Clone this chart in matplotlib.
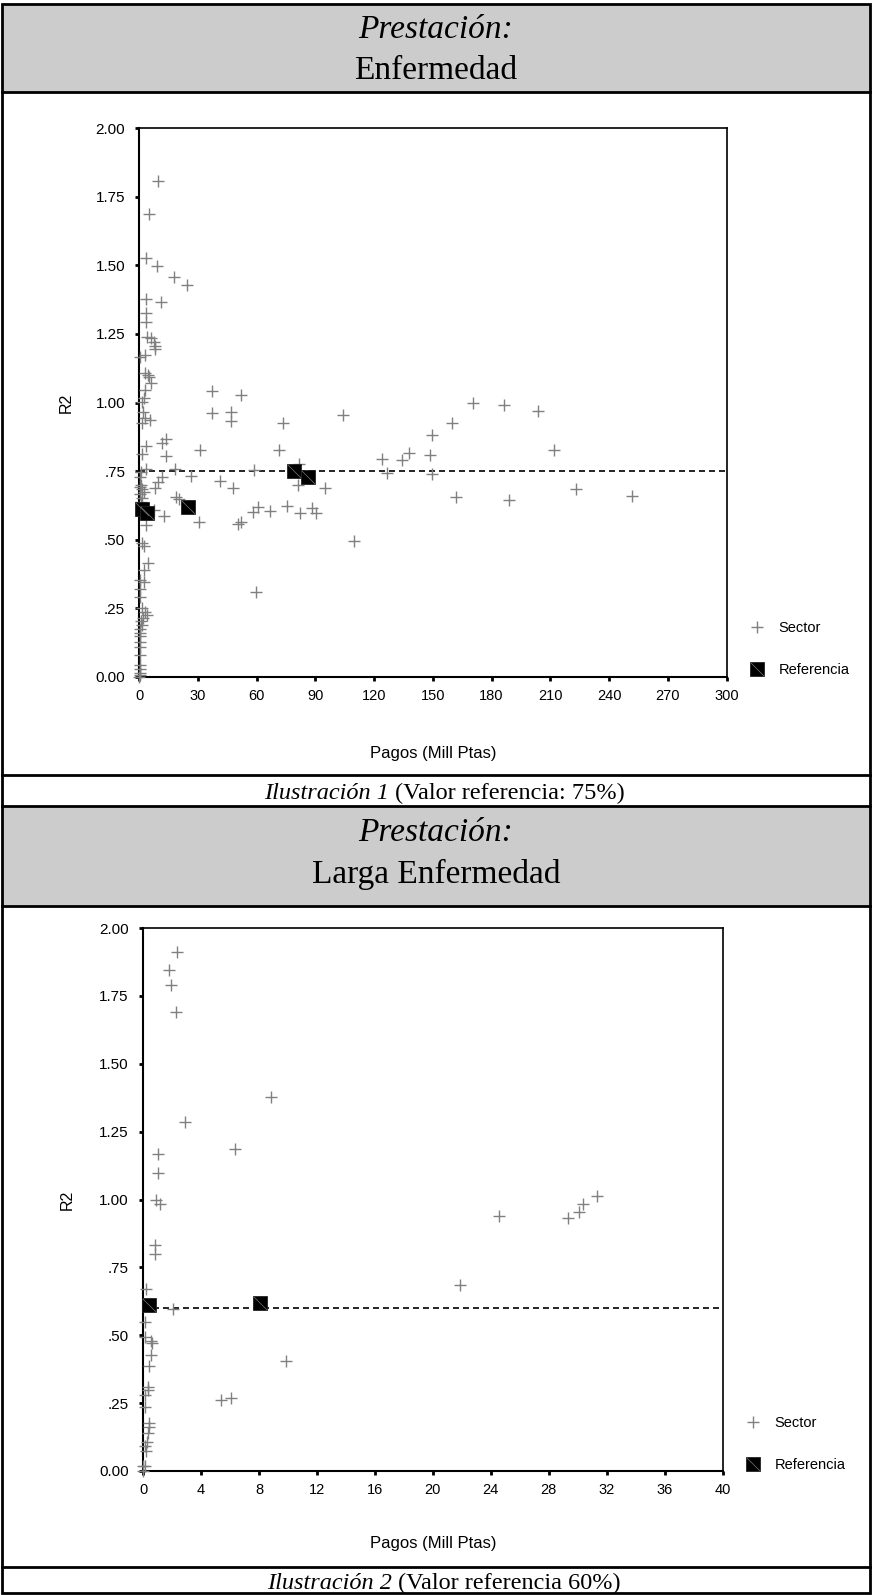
import numpy as np
import matplotlib
matplotlib.use("Agg")
import matplotlib.pyplot as plt
from matplotlib.lines import Line2D
from matplotlib.patches import Rectangle
from matplotlib.path import Path

SERIF = "Liberation Serif"
SANS = "Liberation Sans"
plt.rcParams['font.family'] = [SANS, 'DejaVu Sans']

W, H = 872, 1595

# --- Prestacion: Enfermedad ---
enf_sector_x = [0.4, 2.9, 3.3, 3.3, 3.3, 3.3, 3.8, 6.0, 7.5, 7.8, 7.8, 2.9, 4.3, 5.0, 6.0,
                2.9, 2.2, 1.5, 1.8, 2.8, 1.3, 5.5, 3.3, 1.5, 3.3, 0.8, 0.5, 1.0, 0.4, 1.3,
                2.2, 0.6, 1.6, 0.8, 3.3, 1.2, 2.2, 4.3, 2.2, 0.6, 2.2, 0.5, 0.4, 1.5, 2.8,
                3.8, 2.0, 1.0, 1.6, 0.5, 0.5, 0.4, 0.5, 0.3, 0.3, 0.5, 0.5, 0.2, 0.0, 0.6,
                9.4, 5.0, 8.9, 17.9, 24.2, 11.1, 11.4, 13.5, 13.5, 18.2, 11.8, 9.4, 8.0,
                26.4, 18.7, 20.4, 7.7, 12.8, 30.5,
                31.0, 37.3, 52.0, 37.3, 46.9, 46.9, 41.2, 48.0, 50.6, 51.9, 58.6, 58.3,
                60.8, 59.6, 66.9, 71.4, 73.6, 75.3, 81.6, 81.3, 82.1, 88.0, 90.2, 94.9,
                103.9, 109.9,
                123.9, 126.7, 134.1, 138.0, 148.6, 149.4, 149.4, 159.6, 161.8, 170.4,
                186.4, 188.9, 203.6, 212.1, 223.0, 251.6]
enf_sector_y = [1.165, 1.173, 1.528, 1.377, 1.325, 1.295, 1.240, 1.234, 1.222, 1.206, 1.195,
                1.108, 1.100, 1.093, 1.070, 1.045, 1.018, 1.002, 0.965, 0.945, 0.925, 0.936,
                0.842, 0.812, 0.757, 0.748, 0.728, 0.700, 0.693, 0.683, 0.672, 0.665, 0.650,
                0.638, 0.552, 0.487, 0.478, 0.413, 0.390, 0.352, 0.345, 0.320, 0.290, 0.250,
                0.237, 0.226, 0.214, 0.202, 0.190, 0.175, 0.160, 0.148, 0.125, 0.108, 0.080,
                0.042, 0.028, 0.012, 0.000, 0.005,
                1.809, 1.686, 1.499, 1.456, 1.428, 1.368, 0.851, 0.866, 0.805, 0.757, 0.729,
                0.711, 0.690, 0.732, 0.656, 0.649, 0.608, 0.586, 0.563,
                0.827, 1.043, 1.027, 0.963, 0.967, 0.934, 0.713, 0.690, 0.557, 0.565, 0.754,
                0.602, 0.618, 0.308, 0.605, 0.827, 0.926, 0.623, 0.776, 0.699, 0.596, 0.614,
                0.596, 0.689, 0.954, 0.496,
                0.793, 0.744, 0.789, 0.817, 0.810, 0.881, 0.738, 0.925, 0.657, 0.998, 0.992,
                0.644, 0.970, 0.827, 0.685, 0.660]
enf_ref_x = [1.5, 4.0, 25.0, 79.0, 86.0]
enf_ref_y = [0.610, 0.598, 0.620, 0.751, 0.729]
enf_valor = 0.75

# --- Prestacion: Larga Enfermedad ---
larga_sector_x = [2.37, 1.79, 1.91, 2.25, 8.83, 2.90, 6.35, 1.01, 1.01, 0.90, 1.17, 0.83, 0.83,
                  0.21, 2.09, 0.14, 0.14, 0.53, 0.60, 0.53, 0.43, 9.87, 5.36, 6.05, 0.35, 0.35,
                  0.14, 0.14, 0.43, 0.43, 0.35, 0.25, 0.14, 0.20, 0.0, 0.14, 0.0,
                  21.87, 24.57, 29.3, 30.1, 30.35, 31.3]
larga_sector_y = [1.910, 1.844, 1.789, 1.690, 1.377, 1.284, 1.185, 1.169, 1.097, 1.000, 0.982,
                  0.834, 0.801, 0.669, 0.597, 0.548, 0.495, 0.479, 0.470, 0.427, 0.387, 0.406,
                  0.261, 0.268, 0.310, 0.298, 0.280, 0.237, 0.178, 0.163, 0.139, 0.105, 0.093,
                  0.074, 0.020, 0.018, 0.000,
                  0.685, 0.939, 0.933, 0.955, 0.982, 1.014]
larga_ref_x = [0.4, 8.1]
larga_ref_y = [0.610, 0.620]
larga_valor = 0.60

y_ticks = [0, 0.25, 0.5, 0.75, 1.0, 1.25, 1.5, 1.75, 2.0]
y_ticklabels = ['0.00', '.25', '.50', '.75', '1.00', '1.25', '1.50', '1.75', '2.00']

GRAY_HDR = '#cccccc'
PLUS = '#808080'
diag = Path([(-1, 1), (1, -1)], [Path.MOVETO, Path.LINETO])


def fy(px):
    return 1 - px / H


def hline(fig, ypx, x0=2, x1=870, lw=2.0):
    fig.add_artist(Line2D([x0 / W, x1 / W], [fy(ypx), fy(ypx)], color='black', lw=lw))


def draw_panel(ax, sx, sy, rx, ry, valor, xmax, xstep, leg_y, xpad):
    ax.plot(sx, sy, linestyle='none', marker='+', ms=8, mew=1.0, color=PLUS,
            clip_on=False, zorder=3)
    ax.axhline(valor, color='black', lw=1.2, dashes=(3.6, 2.4), zorder=2)
    sq, = ax.plot(rx, ry, linestyle='none', marker='s', ms=10.5, color='black',
                  mec='#222222', mew=0.6, clip_on=False, zorder=4)
    dl, = ax.plot(rx, ry, linestyle='none', marker=diag, ms=9.5, color='#777777',
                  mew=0.5, clip_on=False, zorder=5)
    ax.set_xlim(0, xmax)
    ax.set_ylim(0, 2)
    ax.set_xticks(np.arange(0, xmax + 0.1, xstep))
    ax.set_xticklabels([str(int(v)) for v in np.arange(0, xmax + 0.1, xstep)])
    ax.set_yticks(y_ticks)
    ax.set_yticklabels(y_ticklabels)
    ax.tick_params(direction='out', length=3.2, width=2.0, color='black')
    ax.tick_params(axis='y', pad=7, labelsize=11)
    ax.tick_params(axis='x', pad=5.5, labelsize=10.5)
    for s in ['left', 'bottom']:
        ax.spines[s].set_linewidth(1.5)
    for s in ['top', 'right']:
        ax.spines[s].set_linewidth(1.2)
    ax.set_xlabel('Pagos (Mill Ptas)', fontsize=12, labelpad=xpad)
    ax.set_ylabel('R2', fontsize=11.5)
    sect = Line2D([], [], linestyle='none', marker='+', ms=8, mew=1.0, color=PLUS)
    ax.legend([sect, (sq, dl)], ['Sector', 'Referencia'], loc='center left',
              bbox_to_anchor=(1.039, leg_y), frameon=False, fontsize=10.5,
              handlelength=1.0, handletextpad=1.0, labelspacing=1.9, borderpad=0,
              borderaxespad=0)


fig = plt.figure(figsize=(W / 100, H / 100), dpi=100)

# header backgrounds
fig.patches.append(Rectangle((2 / W, fy(92)), 868 / W, 88 / H, transform=fig.transFigure,
                             facecolor=GRAY_HDR, edgecolor='none', zorder=0))
fig.patches.append(Rectangle((2 / W, fy(906)), 868 / W, 100 / H, transform=fig.transFigure,
                             facecolor=GRAY_HDR, edgecolor='none', zorder=0))

# outer frame and separators
fig.add_artist(Rectangle((2 / W, fy(1593)), 868 / W, 1589 / H, transform=fig.transFigure,
                         facecolor='none', edgecolor='black', lw=2.0))
for ypx in [92, 775, 806, 906, 1567]:
    hline(fig, ypx)

# header texts
fig.text(0.5, fy(38), 'Prestación:', family=SERIF, style='italic', fontsize=24,
         ha='center', va='baseline')
fig.text(0.5, fy(79), 'Enfermedad', family=SERIF, fontsize=24, ha='center', va='baseline')
fig.text(0.5, fy(841), 'Prestación:', family=SERIF, style='italic', fontsize=24,
         ha='center', va='baseline')
fig.text(0.5, fy(883), 'Larga Enfermedad', family=SERIF, fontsize=24, ha='center',
         va='baseline')


# captions: italic part + normal part, centred together (slightly right of centre)
def caption(ypx, parts, xshift=8):
    renderer = fig.canvas.get_renderer()
    objs = []
    for txt, st in parts:
        o = fig.text(0, fy(ypx), txt, family=SERIF, style=st, fontsize=17.5, va='baseline')
        objs.append(o)
    widths = [o.get_window_extent(renderer).width for o in objs]
    x = (W - sum(widths)) / 2 + xshift
    for o, w in zip(objs, widths):
        o.set_x(x / W)
        x += w

caption(799, [('Ilustración 1 ', 'italic'), ('(Valor referencia: 75%)', 'normal')])
caption(1589, [('Ilustración 2 ', 'italic'), ('(Valor referencia 60%)', 'normal')])

ax1 = fig.add_axes([139.3 / W, fy(676.7), 587.2 / W, 548.4 / H])
draw_panel(ax1, enf_sector_x, enf_sector_y, enf_ref_x, enf_ref_y, enf_valor, 300, 30, 0.050, 31)
ax1.yaxis.set_label_coords(-0.111, 0.5)

ax2 = fig.add_axes([143.0 / W, fy(1471), 579.7 / W, 543.0 / H])
draw_panel(ax2, larga_sector_x, larga_sector_y, larga_ref_x, larga_ref_y, larga_valor, 40, 4,
           0.050, 28)
ax2.yaxis.set_label_coords(-0.118, 0.5)

fig.savefig('out.png', dpi=100)
